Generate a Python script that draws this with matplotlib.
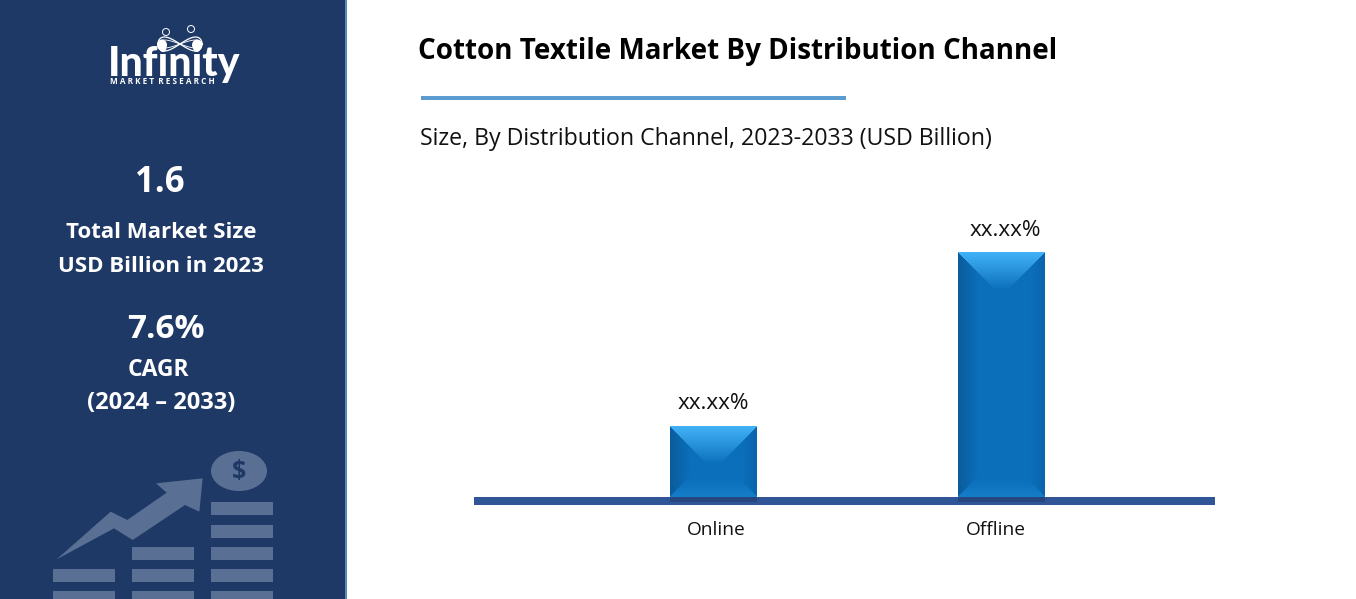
import matplotlib
matplotlib.use("Agg")
import matplotlib.pyplot as plt
from matplotlib.patches import Ellipse, Polygon, Rectangle
import numpy as np

W, H = 1356, 599

categories = ["Online", "Offline"]
shares = [22.3, 77.7]
share_labels = ["xx.xx%", "xx.xx%"]
title = "Cotton Textile Market By Distribution Channel"
subtitle = "Size, By Distribution Channel, 2023-2033 (USD Billion)"
side_texts = [
    ("1.6", 160, 183, 25),
    ("Total Market Size", 161, 233, 16),
    ("USD Billion in 2023", 161, 267, 16),
    ("7.6%", 166, 329, 24),
    ("CAGR", 158.5, 370, 16.5),
    ("(2024 – 2033)", 161, 403, 17),
]

NAVY = "#1f3966"
ICON = "#5a6f94"


def bevel_image(w, h):
    # bevelled bar face, one pixel per screen pixel
    yy, xx = np.mgrid[0:h, 0:w] + 0.5
    dt, db, dl, dr = yy, h - yy, xx, w - xx
    nearest = np.argmin(np.stack([dt, db, dl, dr]), axis=0)
    base = np.array([11, 111, 187]) / 255
    img = np.ones((h, w, 3)) * base

    def blend(mask, dist, edge, depth):
        t = np.clip(dist / depth, 0, 1)[..., None]
        col = np.array(edge) / 255 * (1 - t) + base * t
        img[mask] = col[mask]

    blend(nearest == 0, dt, (66, 178, 247), 38)
    blend(nearest == 1, db, (22, 125, 200), 18)
    blend(nearest == 2, dl, (10, 92, 155), 20)
    blend(nearest == 3, dr, (10, 100, 172), 14)
    return img


def draw_bevel(ax, bar):
    x0, y0 = bar.get_xy()
    bw, bh = bar.get_width(), bar.get_height()
    (px0, py0), (px1, py1) = ax.transData.transform([(x0, y0), (x0 + bw, y0 + bh)])
    img = bevel_image(int(round(px1 - px0)), int(round(py1 - py0)))
    ax.imshow(img, extent=(x0, x0 + bw, y0, y0 + bh), aspect="auto", zorder=3,
              interpolation="bilinear")
    return px0, px1


fig = plt.figure(figsize=(W / 100, H / 100), dpi=100)
fig.patch.set_facecolor("white")

# overlay in pixel coordinates for the panel and the decoration
bg = fig.add_axes([0, 0, 1, 1])
bg.set_xlim(0, W)
bg.set_ylim(H, 0)
bg.axis("off")

bg.add_patch(Rectangle((0, 0), 345, H, color=NAVY, lw=0))
bg.add_patch(Rectangle((345, 0), 2, H, color="#5f88b8", lw=0))

# icon at the bottom of the panel
cols = [53, 132, 211]
rows = [502, 525, 547, 569, 591]
first_row = [3, 2, 0]
for cx, start in zip(cols, first_row):
    for ry in rows[start:]:
        bg.add_patch(Rectangle((cx, ry), 62, 13, color=ICON, lw=0))
arrow = np.array([(170, 358), (332, 215), (382, 240), (500, 158), (468, 130), (608, 115),
                  (598, 215), (555, 195), (398, 300), (342, 265)]) / 3 + [0, 440]
bg.add_patch(Polygon(arrow, color=ICON, lw=0))
bg.add_patch(Ellipse((239, 471), 56, 40, color=ICON, lw=0))
bg.text(239, 471, "$", color=NAVY, fontsize=18, fontweight="bold", ha="center", va="center",
        family="Open Sans")

# logo
bg.text(174, 64, "Infinity", color="white", fontsize=29.5, fontweight="black", ha="center",
        va="center", family="Lato")
bg.text(110, 82, "M A R K E T  R E S E A R C H", color="white", fontsize=5.9, fontweight="bold",
        ha="left", va="center", family="Open Sans")
t = np.linspace(0, 2 * np.pi, 120)
bg.plot(180 + 22 * np.cos(t), 44 + 7 * np.sin(2 * t), color="white", lw=0.9)
bg.plot(180 + 22 * np.cos(t), 44 - 4 * np.sin(2 * t), color="white", lw=0.6)
bg.add_patch(Ellipse((162, 45), 10, 11, color="white", lw=0))
bg.add_patch(Ellipse((197, 45), 10, 11, color="white", lw=0))
bg.add_patch(Ellipse((166, 32), 7, 7, fc="none", ec="white", lw=0.7))
bg.add_patch(Ellipse((191, 29), 7, 7, fc="none", ec="white", lw=0.7))

for txt, px, y, size in side_texts:
    bg.text(px, y, txt, color="white", fontsize=size, fontweight="bold", ha="center",
            va="center", family="Open Sans")

bg.text(418, 51, title, fontsize=20, fontweight="bold", color="black", va="center",
        family="Open Sans")
bg.add_patch(Rectangle((421, 96), 425, 4, color="#5b9bd0", lw=0))
bg.text(420, 139, subtitle, fontsize=16.7, color="#111111", va="center", family="Open Sans")
bg.add_patch(Rectangle((474, 497), 741, 8, color="#2f5597", lw=0))

# bars
x_left, x_right = 474, 1215
y_base, y_top = 497, 200
ax = fig.add_axes([x_left / W, 1 - y_base / H, (x_right - x_left) / W, (y_base - y_top) / H])
ax.patch.set_alpha(0)
x = np.arange(len(categories))
bars = ax.bar(x, shares, width=0.302, color="#0b6fbb", edgecolor="none", zorder=2)
ax.set_xlim((x_left - 713.5) / 288, (x_right - 713.5) / 288)
ax.set_ylim(0, shares[1] * (y_base - y_top) / 245)
label_shift = [(0, 9), (3, 8)]
for bar, lab, shift in zip(bars, share_labels, label_shift):
    px0, px1 = draw_bevel(ax, bar)
    # darker shadow on the base line under each bar
    bg.add_patch(Rectangle((px0, 497), px1 - px0, 5, color="#27467f", lw=0))
    ax.annotate(lab, (bar.get_x() + bar.get_width() / 2, bar.get_height()), xytext=shift,
                textcoords="offset points", ha="center", va="bottom", fontsize=16.2,
                color="#111111", family="Open Sans", zorder=4)
ax.set_xlim((x_left - 713.5) / 288, (x_right - 713.5) / 288)
ax.set_ylim(0, shares[1] * (y_base - y_top) / 245)
ax.set_xticks([0.01, 0.98])
ax.set_xticklabels(categories, fontsize=13.8, color="#111111", family="Open Sans")
ax.tick_params(axis="x", length=0, pad=17.5)
ax.set_yticks([])
for s in ax.spines.values():
    s.set_visible(False)

fig.savefig("out.png", dpi=100)
